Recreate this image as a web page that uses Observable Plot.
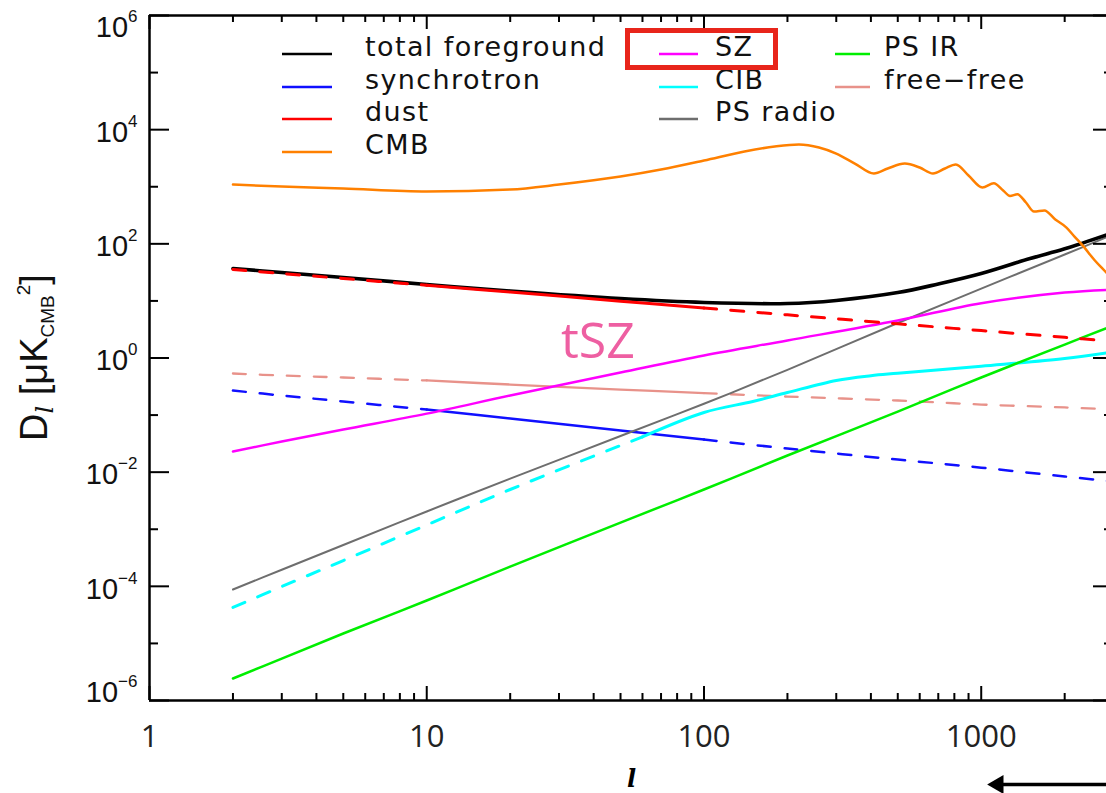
<!DOCTYPE html>
<html><head><meta charset="utf-8">
<script src="https://cdn.jsdelivr.net/npm/d3@7"></script>
<script src="https://cdn.jsdelivr.net/npm/@observablehq/plot@0.6"></script>
<style>
html,body{margin:0;padding:0;background:#fff;overflow:hidden;}
#wrap{position:relative;width:1106px;height:793px;overflow:hidden;background:#fff;}
</style></head><body><div id="wrap"></div>
<script>
// ---------- data ----------
const ell = [2, 3, 5, 10, 20, 50, 100, 200, 500, 1000, 2000, 3000];
const dustD = [35.5, 30.2, 24.7, 18.8, 14.3, 9.9, 7.5, 5.7, 3.97, 3.02, 2.30, 1.95];
const synchD = [0.269, 0.220, 0.173, 0.125, 0.0871, 0.0536, 0.0373, 0.0259, 0.0166, 0.0120, 0.0084, 0.00686];
const freefreeD = [0.535, 0.493, 0.455, 0.404, 0.343, 0.280, 0.243, 0.211, 0.180, 0.153, 0.136, 0.125];
const szD = [0.0230, 0.0344, 0.0559, 0.106, 0.220, 0.557, 1.11, 2.03, 4.54, 9.1, 14.0, 15.8];
const psRadioD = [8.8e-5, 1.95e-4, 5.3e-4, 2.05e-3, 7.7e-3, 0.043, 0.158, 0.62, 4.1, 16.4, 65.0, 146];
const psIrD = [2.43e-6, 5.43e-6, 1.49e-5, 5.64e-5, 2.22e-4, 1.31e-3, 4.97e-3, 0.0196, 0.115, 0.455, 1.72, 3.71];

const totalL = [2, 3, 5, 10, 20, 50, 100, 200, 300, 500, 700, 1000, 1500, 2000, 3000];
const totalD = [37.0, 31.5, 25.7, 19.4, 14.9, 11.0, 9.4, 9.0, 10.2, 14.0, 19.8, 30.2, 55.3, 81.9, 158];

const cibL = [2, 3, 5, 10, 20, 50, 60, 100, 150, 200, 300, 400, 500, 1000, 2000, 3000];
const cibD = [4.26e-5, 9.9e-5, 2.83e-4, 1.19e-3, 4.97e-3, 0.0293, 0.0415, 0.111, 0.173, 0.248, 0.405, 0.49, 0.54, 0.72, 0.98, 1.28];

const cmbL = [2, 3, 5, 10, 20, 30, 50, 70, 100, 140, 180, 220, 260, 300, 350, 410, 460, 530, 600, 670, 740, 810, 900, 1010, 1110, 1200, 1270, 1350, 1450, 1550, 1690, 1850, 2030, 2170, 2320, 2570, 2850, 3000];
const cmbD = [1094, 1009, 931, 826, 895, 1094, 1510, 2003, 2880, 4140, 5070, 5500, 4870, 3820, 2550, 1705, 2090, 2550, 2170, 1705, 2090, 2450, 1570, 970, 1150, 860, 690, 740, 530, 368, 384, 267, 193, 134, 94, 51, 30, 22.8];

const xMajor = [1, 10, 100, 1000];
const xMinor = [2, 3, 4, 5, 6, 7, 8, 9, 20, 30, 40, 50, 60, 70, 80, 90, 200, 300, 400, 500, 600, 700, 800, 900, 2000];
const xTickLabels = ["1", "10", "100", "1000"];
const yMajor = [1e-6, 1e-4, 1e-2, 1, 1e2, 1e4, 1e6];
const yMinor = [1e-5, 1e-3, 1e-1, 10, 1e3, 1e5];

const legendNames = ["total foreground", "synchrotron", "dust", "CMB", "SZ", "CIB", "PS radio", "PS IR", "free\u2212free"];
const legendColors = ["#000000", "#1010ff", "#ff0000", "#ff8000", "#ff00ff", "#00ffff", "#6e6e6e", "#00ee00", "#e8928a"];
const legendCol = [0, 0, 0, 0, 1, 1, 1, 2, 2];
const legendRow = [0, 1, 2, 3, 0, 1, 2, 0, 1];

const arrowL = [3000, 1100];
const arrowHeadL = 1150;
const arrowD = 3.37e-8;

// ---------- series ----------
const series = [
  {L: ell, D: freefreeD, color: "#e8928a", w: 2.3, solid: [10, 100]},
  {L: ell, D: synchD, color: "#1010ff", w: 2.5, solid: [10, 100]},
  {L: cibL, D: cibD, color: "#00ffff", w: 3, solid: [60, 3000]},
  {L: ell, D: psIrD, color: "#00ee00", w: 2.5},
  {L: ell, D: psRadioD, color: "#6e6e6e", w: 2},
  {L: ell, D: szD, color: "#ff00ff", w: 2.5},
  {L: totalL, D: totalD, color: "#000000", w: 3.6},
  {L: ell, D: dustD, color: "#ff0000", w: 3, solid: [10, 100]},
  {L: cmbL, D: cmbD, color: "#ff8000", w: 2.5, curve: "monotone-x"}
];

function segments(s) {
  const pts = s.L.map((l, i) => ({l, D: s.D[i]}));
  if (!s.solid) return [{pts, dashed: false}];
  const [lo, hi] = s.solid;
  return [
    {pts: pts.filter(p => p.l <= lo), dashed: true},
    {pts: pts.filter(p => p.l >= lo && p.l <= hi), dashed: false},
    {pts: pts.filter(p => p.l >= hi), dashed: true}
  ].filter(g => g.pts.length > 1);
}

const W = 1115, H = 793, mL = 149, mR = 2, mT = 15, mB = 93;
const plotW = W - mL - mR, plotH = H - mT - mB;

const lineMarks = [];
for (const s of series) {
  for (const g of segments(s)) {
    lineMarks.push(Plot.line(g.pts, {
      x: "l", y: "D", stroke: s.color, strokeWidth: s.w,
      strokeDasharray: g.dashed ? "13,14" : null,
      curve: s.curve || "catmull-rom"
    }));
  }
}

const tickStroke = {stroke: "black", strokeWidth: 2};
const plot = Plot.plot({
  width: W, height: H,
  marginLeft: mL, marginRight: mR, marginTop: mT, marginBottom: mB,
  x: {type: "log", domain: [1, 3000], axis: null},
  y: {type: "log", domain: [1e-6, 1e6], axis: null},
  style: {background: "white", maxWidth: "none", overflow: "visible"},
  marks: [
    ...lineMarks,
    // frame
    Plot.ruleX([1, 3000], {stroke: "black", strokeWidth: 2.5}),
    Plot.ruleY([1e-6, 1e6], {stroke: "black", strokeWidth: 2.5}),
    // x ticks (inward, bottom and top)
    Plot.ruleX(xMajor, {...tickStroke, insetTop: plotH - 14}),
    Plot.ruleX(xMajor, {...tickStroke, insetBottom: plotH - 14}),
    Plot.ruleX(xMinor, {...tickStroke, insetTop: plotH - 7}),
    Plot.ruleX(xMinor, {...tickStroke, insetBottom: plotH - 7}),
    // y ticks (inward, left and right)
    Plot.ruleY(yMajor, {...tickStroke, insetRight: plotW - 20}),
    Plot.ruleY(yMajor, {...tickStroke, insetLeft: plotW - 20}),
    Plot.ruleY(yMinor, {...tickStroke, insetRight: plotW - 9}),
    Plot.ruleY(yMinor, {...tickStroke, insetLeft: plotW - 9}),
    // x tick labels
    Plot.text(xMajor, {x: d => d, text: (d, i) => xTickLabels[i], frameAnchor: "bottom", dy: 37,
      lineAnchor: "middle", fontSize: 31, fontFamily: "'Open Sans', sans-serif", fill: "#222"}),
    // y tick labels (post-processed into 10 + superscript)
    Plot.text(yMajor, {y: d => d, text: d => "10^" + Math.round(Math.log10(d)), frameAnchor: "left",
      dx: -12, textAnchor: "end", lineAnchor: "middle", fontSize: 29,
      fontFamily: "'Liberation Sans', Arial, sans-serif", fill: "#111"}),
    // x axis title
    Plot.text(["l"], {frameAnchor: "bottom", text: d => d, dy: 79, lineAnchor: "middle",
      fontSize: 24, fontStyle: "italic", fontWeight: "bold", fontFamily: "'DejaVu Serif', serif"}),
    // arrow annotation below the axis
    Plot.link([0], {x1: () => arrowL[0], x2: () => arrowL[1], y1: () => arrowD, y2: () => arrowD,
      stroke: "black", strokeWidth: 3.5}),
    Plot.dot([0], {x: () => arrowHeadL, y: () => arrowD, symbol: "triangle2", r: 9,
      fill: "black", stroke: "none", rotate: -90})
  ]
});
plot.style.maxWidth = "none";
document.getElementById("wrap").appendChild(plot);

const svg = d3.select(plot);
// superscript tick labels
svg.selectAll("text").each(function () {
  const t = d3.select(this);
  const s = t.text();
  if (!s.startsWith("10^")) return;
  const e = +s.split("^")[1];
  t.text(null);
  const shift = e === 6 ? 12 : e === -6 ? -8 : 3;
  t.append("tspan").attr("dy", shift).text("10");
  t.append("tspan").attr("dy", -15).attr("font-size", 17).text(String(e).replace("-", "\u2212"));
});

// y axis title
const yt = svg.append("text")
  .attr("transform", "translate(47,357.5) rotate(-90)")
  .attr("text-anchor", "middle")
  .attr("fill", "#111")
  .style("font-family", "'Liberation Sans', Arial, sans-serif")
  .style("font-size", "38px");
yt.append("tspan").text("D");
yt.append("tspan").attr("font-size", 24).attr("dy", 6).attr("font-style", "italic").attr("font-family", "'DejaVu Serif', serif").text("l");
yt.append("tspan").attr("dy", -6).text(" [\u03bcK");
yt.append("tspan").attr("font-size", 19).attr("dy", 7).text("CMB");
yt.append("tspan").attr("font-size", 19).attr("dy", -24).text("2");
yt.append("tspan").attr("dy", 17).text("]");

// legend
const colLineX = [282, 659, 835], colLineLen = [50, 39, 35], colTextX = [365, 715, 884];
const rowY = [56, 89, 121, 154];
const lg = svg.append("g").attr("text-anchor", "start");
legendNames.forEach((name, i) => {
  const c = legendCol[i], r = legendRow[i];
  lg.append("line").attr("x1", colLineX[c]).attr("x2", colLineX[c] + colLineLen[c])
    .attr("y1", rowY[r] - 2).attr("y2", rowY[r] - 2)
    .attr("stroke", legendColors[i]).attr("stroke-width", 2.5);
  lg.append("text").attr("x", colTextX[c]).attr("y", rowY[r])
    .attr("text-anchor", "start")
    .attr("fill", "#111")
    .style("font-family", "'DejaVu Sans', sans-serif").style("font-size", "27px")
    .style("letter-spacing", "1.4px")
    .text(name);
});

// highlight box around SZ entry
svg.append("rect").attr("x", 627.5).attr("y", 30.5).attr("width", 148).attr("height", 37)
  .attr("fill", "none").attr("stroke", "#e8251b").attr("stroke-width", 5);

// tSZ annotation
svg.append("text").attr("x", 561).attr("y", 358)
  .attr("text-anchor", "start")
  .attr("fill", "#ee5fa2")
  .style("font-family", "'Open Sans', sans-serif").style("font-size", "50px")
  .text("tSZ");
</script>
</body></html>
